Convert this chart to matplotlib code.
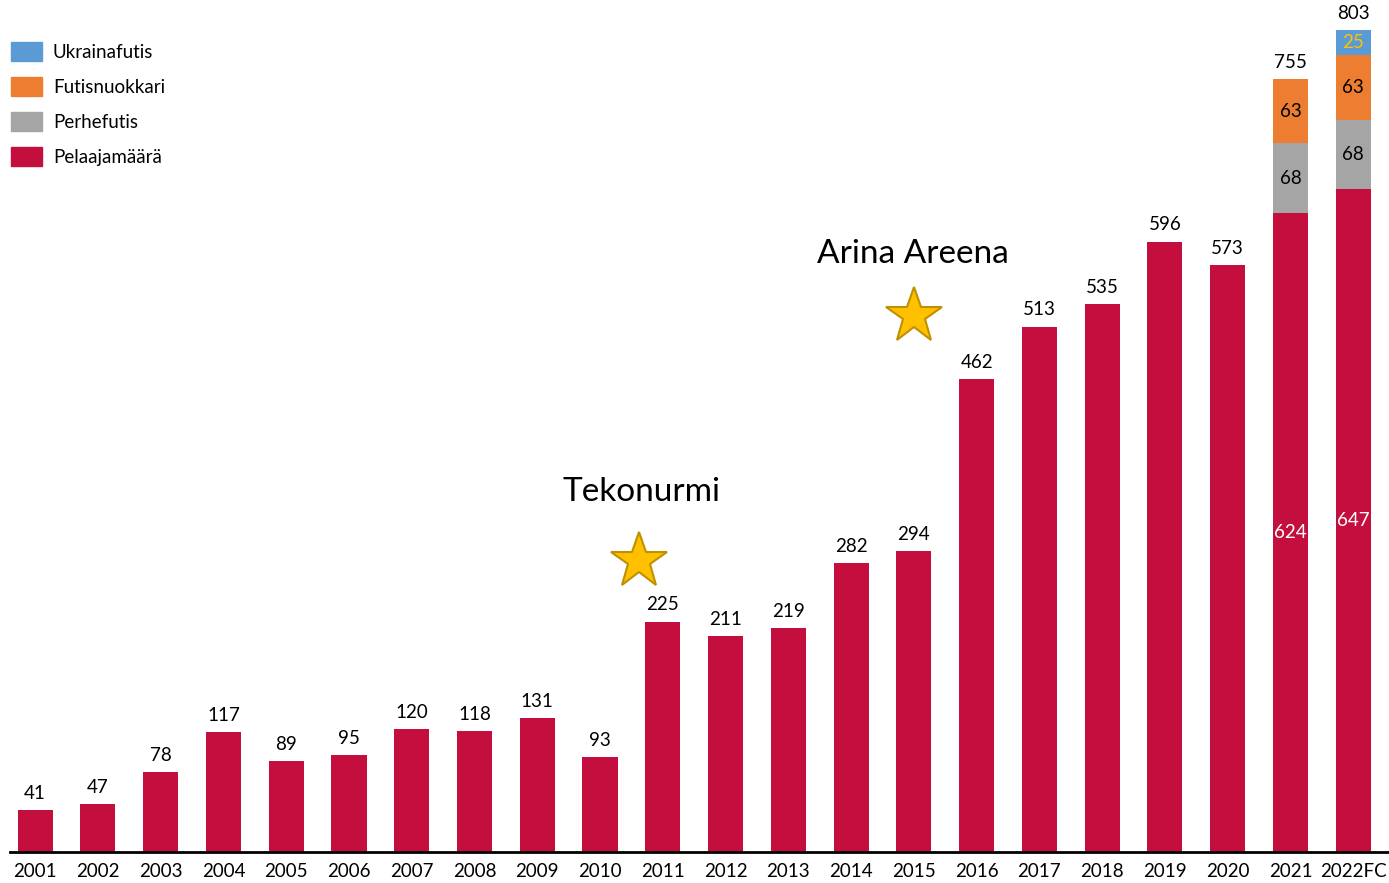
import numpy as np
import matplotlib.pyplot as plt
from matplotlib.patches import Patch

plt.rcParams['font.family'] = ['Lato', 'DejaVu Sans']

years = ['2001', '2002', '2003', '2004', '2005', '2006', '2007', '2008', '2009', '2010',
         '2011', '2012', '2013', '2014', '2015', '2016', '2017', '2018', '2019', '2020',
         '2021', '2022FC']
pelaajat = [41, 47, 78, 117, 89, 95, 120, 118, 131, 93,
            225, 211, 219, 282, 294, 462, 513, 535, 596, 573, 624, 647]
perhefutis = [0] * 20 + [68, 68]
nuokkari = [0] * 20 + [63, 63]
ukraina = [0] * 21 + [25]

red = '#C40E3D'
grey = '#A5A5A5'
orange = '#ED7D31'
blue = '#5B9BD5'

x = np.arange(len(years))
w = 0.56
p = np.array(pelaajat)
ph = np.array(perhefutis)
nk = np.array(nuokkari)
uk = np.array(ukraina)

fig = plt.figure(figsize=(13.89, 8.83), dpi=100)
ax = fig.add_axes([0.0072, 1 - 852 / 883, 1 - 0.0072, 852 / 883])

ax.bar(x, p, w, color=red)
ax.bar(x, ph, w, bottom=p, color=grey)
ax.bar(x, nk, w, bottom=p + ph, color=orange)
ax.bar(x, uk, w, bottom=p + ph + nk, color=blue)

tot = p + ph + nk + uk
fs = 13.5
for i in range(len(x)):
    ax.text(x[i], tot[i] + 8, str(tot[i]), ha='center', va='bottom', fontsize=fs)
    if ph[i] > 0:
        ax.text(x[i], p[i] / 2, str(p[i]), ha='center', va='center', fontsize=fs, color='white')
        ax.text(x[i], p[i] + ph[i] / 2, str(ph[i]), ha='center', va='center', fontsize=fs)
    if nk[i] > 0:
        ax.text(x[i], p[i] + ph[i] + nk[i] / 2, str(nk[i]), ha='center', va='center', fontsize=fs)
    if uk[i] > 0:
        ax.text(x[i], p[i] + ph[i] + nk[i] + uk[i] / 2, str(uk[i]), ha='center', va='center',
                fontsize=fs, color='#FFC000')

# annotations
ax.plot([9.62], [284], marker='*', markersize=42, color='#FFC000', markeredgecolor='#BF9000', markeredgewidth=1.5)
ax.plot([14.0], [523], marker='*', markersize=42, color='#FFC000', markeredgecolor='#BF9000', markeredgewidth=1.5)
ax.text(9.66, 352, 'Tekonurmi', ha='center', va='center', fontsize=24)
ax.text(13.99, 584, 'Arina Areena', ha='center', va='center', fontsize=24)

ax.set_xlim(-0.4, 21.57)
ax.set_ylim(0, 832)
ax.set_xticks(x)
ax.set_xticklabels(years, fontsize=fs)
ax.tick_params(axis='x', length=0, pad=8)
ax.set_yticks([])
for s in ['top', 'right', 'left']:
    ax.spines[s].set_visible(False)
ax.spines['bottom'].set_linewidth(2)

handles = [Patch(color=blue), Patch(color=orange), Patch(color=grey), Patch(color=red)]
labels = ['Ukrainafutis', 'Futisnuokkari', 'Perhefutis', 'Pelaajamäärä']
ax.legend(handles, labels, loc='upper left', bbox_to_anchor=(-0.005, 0.96), frameon=False,
          fontsize=fs, handlelength=1.7, handleheight=1.2, handletextpad=0.55, labelspacing=0.85,
          borderaxespad=0.0)

plt.savefig('out.png', dpi=100)
